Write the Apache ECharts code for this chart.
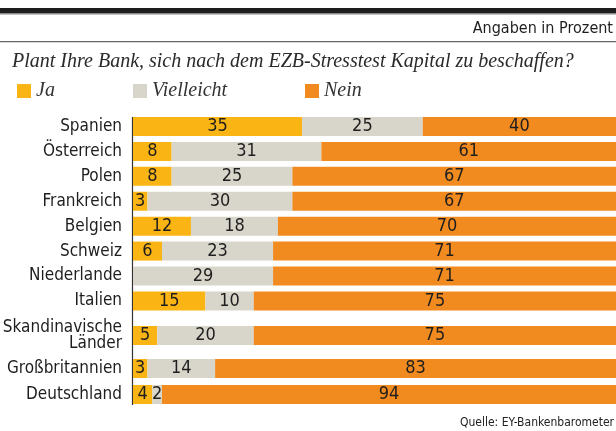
<!DOCTYPE html>
<html>
<head>
<meta charset="utf-8">
<script src="https://cdn.jsdelivr.net/npm/echarts@6/dist/echarts.min.js"></script>
<style>
html,body{margin:0;padding:0;background:#fff;}
#chart{width:616px;height:431px;}
</style>
</head>
<body>
<div id="chart"></div>
<script>
// ---- data ----
const categories = ['Spanien','Österreich','Polen','Frankreich','Belgien','Schweiz','Niederlande','Italien','Skandinavische\nLänder','Großbritannien','Deutschland'];
const ja         = [35, 8, 8, 3, 12, 6, 0, 15, 5, 3, 4];
const vielleicht = [25, 31, 25, 30, 18, 23, 29, 10, 20, 14, 2];
const nein       = [40, 61, 67, 67, 70, 71, 71, 75, 75, 83, 94];
const seriesNames = ['Ja', 'Vielleicht', 'Nein'];
const xTicks = [0, 100];

// ---- styling ----
const COND = "'Liberation Sans Narrow','DejaVu Sans Condensed',sans-serif";
const SERIF = "'Liberation Serif','DejaVu Serif',serif";
const colors = ['#FAB514', '#D8D5CA', '#F28B1F'];
const values = [ja, vielleicht, nein];

// row groups (separate grids to reproduce the uneven row spacing)
const groups = [
  {from: 0, to: 8, top: 114, height: 199.4},
  {from: 8, to: 9, top: 323, height: 25},
  {from: 9, to: 11, top: 355.5, height: 52}
];

const grid = [], xAxis = [], yAxis = [], series = [];
groups.forEach((g, gi) => {
  grid.push({left: 133, right: 0, top: g.top, height: g.height, containLabel: false, outerBoundsMode: 'none'});
  xAxis.push({type: 'value', gridIndex: gi, min: xTicks[0], max: xTicks[1], show: false});
  yAxis.push({
    type: 'category', gridIndex: gi, inverse: true,
    data: categories.slice(g.from, g.to),
    axisLine: {show: false}, axisTick: {show: false},
    axisLabel: {color: '#1e1e1e', fontFamily: COND, fontSize: 17, margin: 11, lineHeight: 16, align: 'right'}
  });
  seriesNames.forEach((name, si) => {
    series.push({
      name: name, type: 'bar', stack: 'g' + gi,
      xAxisIndex: gi, yAxisIndex: gi,
      barWidth: 19,
      itemStyle: {color: colors[si]},
      label: {
        show: true, position: 'inside', color: '#1e1e1e',
        fontFamily: COND, fontSize: 18,
        formatter: p => p.value > 0 ? String(p.value) : ''
      },
      emphasis: {disabled: true},
      data: values[si].slice(g.from, g.to)
    });
  });
});

const legendLefts = [12, 128, 300];
const legend = seriesNames.map((n, i) => ({
  data: [n], left: legendLefts[i], top: 76,
  icon: 'rect', itemWidth: 14, itemHeight: 14,
  selectedMode: false,
  textStyle: {fontFamily: SERIF, fontStyle: 'italic', fontSize: 20, color: '#333'}
}));

const chart = echarts.init(document.getElementById('chart'), null, {renderer: 'canvas'});
chart.setOption({
  animation: false,
  backgroundColor: '#fff',
  color: colors,
  grid, xAxis, yAxis, series, legend,
  graphic: [
    {type: 'rect', shape: {x: 0, y: 8, width: 616, height: 5}, style: {fill: '#1e1e1e'}, silent: true},
    {type: 'rect', shape: {x: 0, y: 13, width: 616, height: 1.5}, style: {fill: '#8a8a8a'}, silent: true},
    {type: 'rect', shape: {x: 0, y: 41, width: 616, height: 1.2}, style: {fill: '#666'}, silent: true},
    {type: 'text', right: 3, top: 21, style: {text: 'Angaben in Prozent', font: "16px " + COND, fill: '#1e1e1e'}, silent: true},
    {type: 'text', left: 12, top: 52, style: {text: 'Plant Ihre Bank, sich nach dem EZB-Stresstest Kapital zu beschaffen?', font: "italic 20px " + SERIF, fill: '#2a2a2a'}, silent: true},
    {type: 'text', right: 2, top: 417, style: {text: 'Quelle: EY-Bankenbarometer', font: "12px " + COND, fill: '#222'}, silent: true},
    {type: 'line', shape: {x1: 132.5, y1: 117, x2: 132.5, y2: 405}, style: {stroke: '#333', lineWidth: 1.2}, silent: true}
  ]
});
</script>
</body>
</html>
